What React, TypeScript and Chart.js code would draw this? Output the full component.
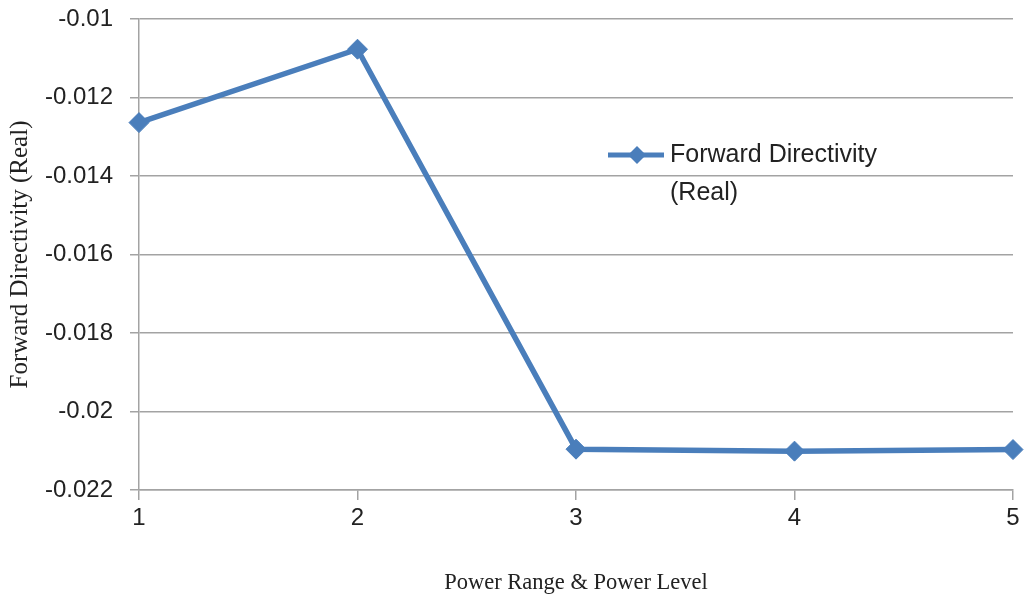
import React, { useEffect, useRef } from "react";
import { Chart, registerables } from "chart.js";

Chart.register(...registerables);

const categories = ["1", "2", "3", "4", "5"];
const seriesLabel = "Forward Directivity (Real)";
const legendLines = ["Forward Directivity", "(Real)"];
const seriesValues = [-0.01264, -0.01077, -0.02096, -0.02101, -0.02097];
const yMin = -0.022;
const yMax = -0.01;
const yStep = 0.002;
const xTitle = "Power Range & Power Level";
const yTitle = "Forward Directivity (Real)";

const LINE_COLOR = "#4a7ebb";
const GRID_COLOR = "#a3a3a3";

const insideLegend = {
  id: "insideLegend",
  afterDraw(chart: any, _args: any, opts: any) {
    const ctx = chart.ctx;
    const ds = chart.data.datasets[0];
    const x0 = opts.x;
    const y0 = opts.y;
    ctx.save();
    ctx.strokeStyle = ds.borderColor;
    ctx.lineWidth = 5;
    ctx.beginPath();
    ctx.moveTo(x0, y0);
    ctx.lineTo(x0 + 56, y0);
    ctx.stroke();
    ctx.fillStyle = ds.pointBackgroundColor;
    const cx = x0 + 29;
    const r = 9;
    ctx.beginPath();
    ctx.moveTo(cx, y0 - r);
    ctx.lineTo(cx + r, y0);
    ctx.lineTo(cx, y0 + r);
    ctx.lineTo(cx - r, y0);
    ctx.closePath();
    ctx.fill();
    ctx.fillStyle = "#222";
    ctx.font = "25px 'Liberation Sans', Arial, sans-serif";
    ctx.textBaseline = "middle";
    ctx.textAlign = "left";
    legendLines.forEach((t: string, i: number) => {
      ctx.fillText(t, x0 + 62, y0 + i * 38);
    });
    ctx.restore();
  },
};

export default function App() {
  const ref = useRef<HTMLCanvasElement | null>(null);
  useEffect(() => {
    document.body.style.margin = "0";
    const c = new Chart(ref.current as HTMLCanvasElement, {
      type: "line",
      data: {
        labels: categories,
        datasets: [
          {
            label: seriesLabel,
            data: seriesValues,
            borderColor: LINE_COLOR,
            backgroundColor: LINE_COLOR,
            pointBackgroundColor: LINE_COLOR,
            pointBorderColor: LINE_COLOR,
            borderWidth: 5.5,
            pointStyle: "rectRot",
            pointRadius: 10,
            pointBorderWidth: 1,
            tension: 0,
          },
        ],
      },
      plugins: [insideLegend],
      options: {
        animation: false,
        responsive: false,
        maintainAspectRatio: false,
        layout: { padding: { top: 19, right: 7, left: 0, bottom: 0 } },
        plugins: {
          legend: { display: false },
          tooltip: { enabled: false },
          insideLegend: { x: 608, y: 155 },
        } as any,
        scales: {
          x: {
            type: "category",
            offset: false,
            afterFit: (s: any) => {
              s.height = 111;
              s.paddingLeft = 0;
              s.paddingRight = 0;
            },
            grid: {
              drawOnChartArea: false,
              drawTicks: true,
              tickLength: 10,
              color: GRID_COLOR,
              lineWidth: 1.5,
            },
            border: { display: true, color: GRID_COLOR, width: 1.5 },
            ticks: {
              color: "#222",
              padding: 4,
              font: { family: "'Liberation Sans', Arial, sans-serif", size: 24 },
            },
            title: {
              display: true,
              text: xTitle,
              color: "#222",
              padding: { top: 0, bottom: 4 },
              font: { family: "'Liberation Serif', 'Times New Roman', serif", size: 22.5 },
            },
          },
          y: {
            min: yMin,
            max: yMax,
            afterFit: (s: any) => {
              s.width = 139;
              s.paddingTop = 0;
              s.paddingBottom = 0;
            },
            grid: {
              color: GRID_COLOR,
              lineWidth: 1.5,
              drawTicks: true,
              tickLength: 9,
            },
            border: { display: true, color: GRID_COLOR, width: 1.5 },
            ticks: {
              stepSize: yStep,
              color: "#222",
              padding: 17,
              font: { family: "'Liberation Sans', Arial, sans-serif", size: 24 },
              callback: (v: any) => String(Number(Number(v).toFixed(3))),
            },
            title: {
              display: true,
              text: yTitle,
              color: "#222",
              padding: { top: 5, bottom: 0 },
              font: { family: "'Liberation Serif', 'Times New Roman', serif", size: 25 },
            },
          },
        },
      },
    });
    return () => c.destroy();
  }, []);
  return (
    <div style={{ position: "absolute", left: 0, top: 0, width: 1024, height: 601, background: "#fff" }}>
      <canvas ref={ref} width={1024} height={601} style={{ width: 1024, height: 601 }} />
    </div>
  );
}
